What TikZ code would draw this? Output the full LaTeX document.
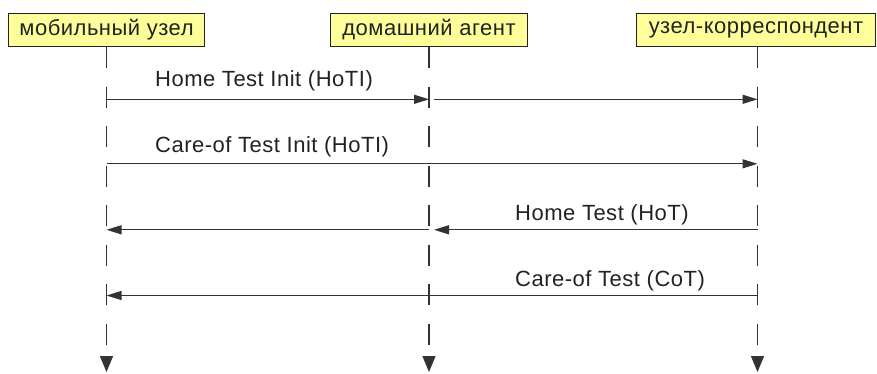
\documentclass[tikz,border=0pt]{standalone}
\usepackage{fontspec}
\setmainfont[LetterSpace=2.3]{Liberation Sans}
\usetikzlibrary{arrows.meta}
\definecolor{boxfill}{HTML}{FFFF99}
\definecolor{ink}{HTML}{222222}
\definecolor{wire}{HTML}{333333}
\begin{document}
\begin{tikzpicture}[x=1pt,y=-1pt,
  font=\fontsize{22}{26}\selectfont,
  actor/.style={draw=ink, line width=1.4pt, fill=boxfill, text=ink,
    minimum height=33pt, inner xsep=6pt, anchor=north},
  lifeline/.style={draw=wire, line width=1.3pt, dash pattern=on 21pt off 18.5pt,
    -{Triangle[length=16pt,width=13pt]}},
  msg/.style={draw=wire, line width=1.3pt, -{Triangle[length=15pt,width=9pt]}},
  lbl/.style={text=ink, anchor=base west, inner sep=0pt}]
\useasboundingbox (0,0) rectangle (877,373);

% participants
\node[actor, minimum width=196pt] (mn) at (106.5,12.7) {мобильный узел};
\node[actor, minimum width=197pt] (ha) at (429,12.7) {домашний агент};
\node[actor, minimum width=239pt] (cn) at (756,12.7) {узел-корреспондент};

% lifeline ends
\coordinate (mnE) at (106.5,372);
\coordinate (haE) at (429,372);
\coordinate (cnE) at (757.5,372);
\draw[lifeline] (mn.south) -- (mnE);
\draw[lifeline] (ha.south) -- (haE);
\draw[lifeline] (mn.south -| cnE) -- (cnE);

% message rows on the lifelines
\foreach \r/\y in {1/99.3, 2/163.8, 3/229.8, 4/295.5}{
  \coordinate (mn\r) at (106.5,\y);
  \coordinate (ha\r) at (429,\y);
  \coordinate (cn\r) at (757.5,\y);
}

% Home Test Init, relayed by the home agent
\draw[msg] (mn1) -- (ha1);
\draw[msg, shorten <=5pt] (ha1) -- (cn1);
\node[lbl] (t1) at (155,86.7) {Home Test Init (HoTI)};

% Care-of Test Init, direct
\draw[msg] (mn2) -- (cn2);
\node[lbl] (t2) at (155,152.3) {Care-of Test Init (HoTI)};

% Home Test, relayed back through the home agent
\draw[msg, shorten >=5pt] (cn3) -- (ha3);
\draw[msg] (ha3) -- (mn3);
\node[lbl] (t3) at (515,220) {Home Test (HoT)};

% Care-of Test, direct
\draw[msg] (cn4) -- (mn4);
\node[lbl] (t4) at (515,286) {Care-of Test (CoT)};
\end{tikzpicture}
\end{document}
